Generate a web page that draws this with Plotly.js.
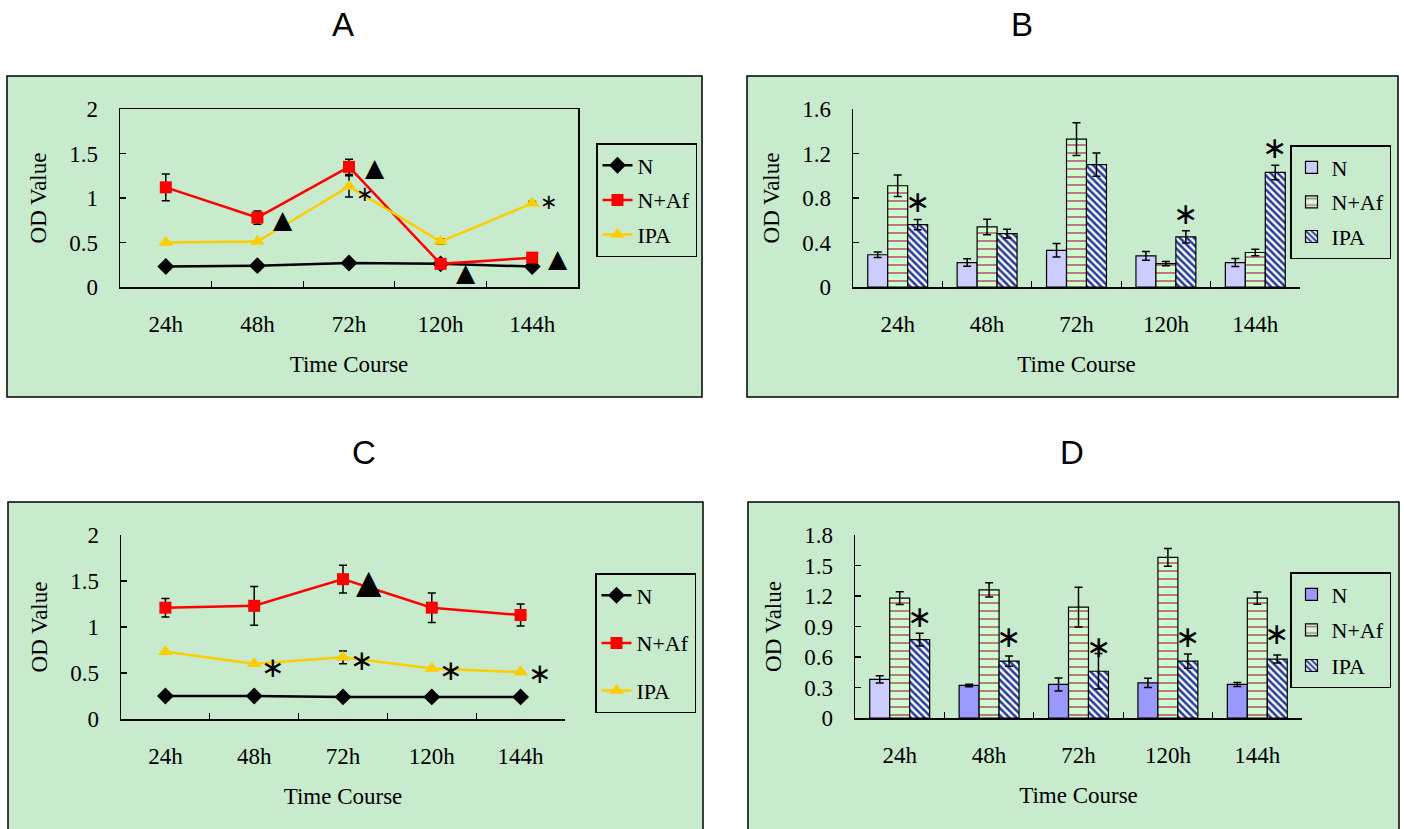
<!DOCTYPE html>
<html>
<head>
<meta charset="utf-8">
<script src="https://cdn.plot.ly/plotly-3.0.1.min.js"></script>
<style>html,body{margin:0;padding:0;background:#fff;overflow:hidden;}#chart{width:1404px;height:829px;}</style>
</head>
<body>
<div id="chart"></div>
<script>
// ---------- data ----------
const categories = ['24h', '48h', '72h', '120h', '144h'];
const seriesNames = ['N', 'N+Af', 'IPA'];

// Panel A (line)
const A_N = [0.23, 0.24, 0.27, 0.26, 0.23];
const A_NAf = [1.12, 0.78, 1.35, 0.26, 0.33];
const A_NAf_err = [0.15, 0.075, 0.085, 0.03, 0.0];
const A_IPA = [0.50, 0.51, 1.13, 0.51, 0.94];
const A_IPA_err = [0.0, 0.0, 0.12, 0.03, 0.02];
const A_triangles = [[1, 0.76], [2, 1.34], [3, 0.16], [4, 0.32]];   // [category index, y]
const A_stars = [[2, 1.05], [4, 0.95]];

// Panel B (bars)
const B_N = [0.29, 0.22, 0.33, 0.28, 0.22];
const B_N_err = [0.025, 0.033, 0.06, 0.04, 0.036];
const B_NAf = [0.91, 0.54, 1.33, 0.21, 0.31];
const B_NAf_err = [0.097, 0.07, 0.147, 0.02, 0.03];
const B_IPA = [0.56, 0.48, 1.10, 0.45, 1.03];
const B_IPA_err = [0.046, 0.04, 0.105, 0.055, 0.065];
const B_stars = [[0, 0.77], [3, 0.66], [4, 1.25]];

// Panel C (line)
const C_N = [0.25, 0.25, 0.24, 0.24, 0.24];
const C_NAf = [1.21, 1.23, 1.52, 1.21, 1.13];
const C_NAf_err = [0.10, 0.21, 0.15, 0.16, 0.12];
const C_IPA = [0.73, 0.60, 0.67, 0.55, 0.51];
const C_IPA_err = [0.0, 0.0, 0.07, 0.0, 0.0];
const C_triangles = [[2, 1.49]];
const C_stars = [[1, 0.56], [2, 0.64], [3, 0.53], [4, 0.49]];

// Panel D (bars)
const D_N = [0.38, 0.32, 0.33, 0.345, 0.33];
const D_N_err = [0.036, 0.012, 0.064, 0.045, 0.02];
const D_N_colors = ['#ccccff', '#9999ff', '#9999ff', '#9999ff', '#9999ff'];
const D_NAf = [1.18, 1.26, 1.09, 1.58, 1.18];
const D_NAf_err = [0.063, 0.07, 0.196, 0.087, 0.06];
const D_IPA = [0.77, 0.56, 0.46, 0.56, 0.58];
const D_IPA_err = [0.063, 0.05, 0.175, 0.07, 0.04];
const D_stars = [[0, 1.0], [1, 0.80], [2, 0.70], [3, 0.80], [4, 0.83]];

const panelTitles = ['A', 'B', 'C', 'D'];
const xTitle = 'Time Course';
const yTitle = 'OD Value';

// ---------- layout helpers ----------
const W = 1404, H = 829;
const px = v => v / W;
const py = v => 1 - v / H;
const GREEN = '#c7ebcc';
const FONT = 'Liberation Serif, DejaVu Serif, serif';
const FS = 23;
const LFS = 22;
const SYMFONT = 'DejaVu Sans, sans-serif';

function errBar(arr) {
  return {type: 'data', array: arr, visible: true, color: '#000', thickness: 1.5, width: 4};
}

const traces = [];

function lineTraces(xa, ya, leg, N, NAf, NAfErr, IPA, IPAErr) {
  traces.push({type: 'scatter', mode: 'lines+markers', name: seriesNames[0], x: categories, y: N,
    xaxis: xa, yaxis: ya, legend: leg, legendgroup: leg + 'a',
    line: {color: '#000000', width: 2.5}, marker: {symbol: 'diamond', size: 13, color: '#000000'}});
  traces.push({type: 'scatter', mode: 'lines+markers', name: seriesNames[1], x: categories, y: NAf,
    xaxis: xa, yaxis: ya, legend: leg, legendgroup: leg + 'b', error_y: errBar(NAfErr),
    line: {color: '#ff0000', width: 2.5}, marker: {symbol: 'square', size: 12, color: '#ff0000'}});
  traces.push({type: 'scatter', mode: 'lines+markers', name: seriesNames[2], x: categories, y: IPA,
    xaxis: xa, yaxis: ya, legend: leg, legendgroup: leg + 'c', error_y: errBar(IPAErr),
    line: {color: '#ffcc00', width: 2.5}, marker: {symbol: 'triangle-up', size: 13, color: '#ffcc00'}});
}

// order lets the legend swatch take the colour of a chosen point first
function barTraces(xa, ya, leg, N, NErr, NColors, NAf, NAfErr, IPA, IPAErr, order) {
  const o = order || [0, 1, 2, 3, 4];
  const pick = arr => Array.isArray(arr) ? o.map(i => arr[i]) : arr;
  traces.push({type: 'bar', name: seriesNames[0], x: pick(categories), y: pick(N), xaxis: xa, yaxis: ya,
    legend: leg, legendgroup: leg + 'a', error_y: errBar(pick(NErr)),
    marker: {color: pick(NColors), line: {color: '#000', width: 1.2}}});
  traces.push({type: 'bar', name: seriesNames[1], x: categories, y: NAf, xaxis: xa, yaxis: ya,
    legend: leg, legendgroup: leg + 'b', error_y: errBar(NAfErr),
    marker: {color: '#ccffcc', line: {color: '#000', width: 1.2},
      pattern: {shape: '-', fgcolor: '#c0608a', bgcolor: '#ccffcc', size: 8, solidity: 0.22, fillmode: 'replace'}}});
  traces.push({type: 'bar', name: seriesNames[2], x: categories, y: IPA, xaxis: xa, yaxis: ya,
    legend: leg, legendgroup: leg + 'c', error_y: errBar(IPAErr),
    marker: {color: '#ffffff', line: {color: '#000', width: 1.2},
      pattern: {shape: '\\', fgcolor: '#2a3a9c', bgcolor: '#f4fbf6', size: 5, solidity: 0.5, fillmode: 'replace'}}});
}

lineTraces('x', 'y', 'legend', A_N, A_NAf, A_NAf_err, A_IPA, A_IPA_err);
barTraces('x2', 'y2', 'legend2', B_N, B_N_err, '#ccccff', B_NAf, B_NAf_err, B_IPA, B_IPA_err);
lineTraces('x3', 'y3', 'legend3', C_N, C_NAf, C_NAf_err, C_IPA, C_IPA_err);
barTraces('x4', 'y4', 'legend4', D_N, D_N_err, D_N_colors, D_NAf, D_NAf_err, D_IPA, D_IPA_err, [1, 2, 3, 4, 0]);

function xAxis(x0, x1, anchor, mirror) {
  return {
    domain: [px(x0), px(x1)], anchor: anchor, type: 'category', range: [-0.5, 4.5],
    categoryorder: 'array', categoryarray: categories,
    showline: true, linecolor: '#000', linewidth: 1.5, mirror: mirror,
    ticks: 'inside', tickson: 'boundaries', ticklen: 6, tickwidth: 1.2, tickcolor: '#000',
    showgrid: false, zeroline: false, ticklabelstandoff: 16,
    tickfont: {family: FONT, size: FS, color: '#000'},
    title: {text: xTitle, font: {family: FONT, size: FS, color: '#000'}, standoff: 20},
    fixedrange: true
  };
}
function yAxis(y0, y1, anchor, max, dtick, mirror) {
  return {
    domain: [py(y1), py(y0)], anchor: anchor, range: [0, max], dtick: dtick, tick0: 0,
    showline: true, linecolor: '#000', linewidth: 1.5, mirror: mirror,
    ticks: 'inside', ticklen: 6, tickwidth: 1.2, tickcolor: '#000',
    showgrid: false, zeroline: false, ticklabelstandoff: 16,
    tickfont: {family: FONT, size: FS, color: '#000'},
    title: {text: yTitle, font: {family: FONT, size: FS, color: '#000'}, standoff: 16},
    fixedrange: true
  };
}

function legendAt(xRight, yTop, gap) {
  return {x: px(xRight), y: py(yTop), xanchor: 'right', yanchor: 'top', bgcolor: 'rgba(0,0,0,0)',
    bordercolor: '#000', borderwidth: 1.5, font: {family: FONT, size: LFS, color: '#000'},
    traceorder: 'grouped', tracegroupgap: gap, itemwidth: 30};
}

const shapes = [
  [7, 76, 702, 397], [747, 76, 1398, 397], [8, 502, 703, 840], [748, 502, 1399, 840]
].map(r => ({type: 'rect', xref: 'paper', yref: 'paper', layer: 'below',
  x0: px(r[0]), x1: px(r[2]), y0: py(r[3]), y1: py(r[1]),
  fillcolor: GREEN, line: {color: '#000', width: 1.5}}));

const annotations = [];
[[343, 24], [1022, 24], [364, 452], [1072, 452]].forEach((p, i) => {
  annotations.push({xref: 'paper', yref: 'paper', x: px(p[0]), y: py(p[1]), text: panelTitles[i],
    showarrow: false, xanchor: 'center', yanchor: 'middle',
    font: {family: 'Liberation Sans, Arial, sans-serif', size: 33, color: '#000'}});
});
function marks(list, xa, ya, glyph, dx, size) {
  list.forEach(m => annotations.push({xref: xa, yref: ya, x: m[0] + dx, y: m[1], text: glyph,
    showarrow: false, xanchor: 'center', yanchor: 'middle',
    font: {family: SYMFONT, size: size, color: '#000'}}));
}
marks(A_triangles, 'x', 'y', '▲', 0.28, 25);
marks(A_stars, 'x', 'y', '∗', 0.18, 21);
marks(B_stars, 'x2', 'y2', '∗', 0.22, 30);
marks(C_triangles, 'x3', 'y3', '▲', 0.29, 33);
marks(C_stars, 'x3', 'y3', '∗', 0.21, 28);
marks(D_stars, 'x4', 'y4', '∗', 0.22, 30);

const layout = {
  width: W, height: H, margin: {l: 0, r: 0, t: 0, b: 0},
  paper_bgcolor: '#ffffff', plot_bgcolor: 'rgba(0,0,0,0)',
  barmode: 'group', bargap: 0.33, bargroupgap: 0,
  xaxis: xAxis(120, 578, 'y', true),
  yaxis: yAxis(109, 287, 'x', 2, 0.5, true),
  xaxis2: xAxis(853, 1300, 'y2', false),
  yaxis2: yAxis(109, 287, 'x2', 1.6, 0.4, false),
  xaxis3: xAxis(121, 565, 'y3', false),
  yaxis3: yAxis(535, 719, 'x3', 2, 0.5, false),
  xaxis4: xAxis(855, 1302, 'y4', false),
  yaxis4: yAxis(535, 718, 'x4', 1.8, 0.3, false),
  legend: legendAt(697, 143, 3),
  legend2: legendAt(1391, 145, 3),
  legend3: legendAt(696, 573, 16),
  legend4: legendAt(1391, 572, 4),
  shapes: shapes,
  annotations: annotations,
  showlegend: true
};
layout.yaxis2.tickvals = [0, 0.4, 0.8, 1.2, 1.6];
layout.yaxis2.ticktext = ['0', '0.4', '0.8', '1.2', '1.6'];
layout.yaxis4.tickvals = [0, 0.3, 0.6, 0.9, 1.2, 1.5, 1.8];
layout.yaxis4.ticktext = ['0', '0.3', '0.6', '0.9', '1.2', '1.5', '1.8'];

Plotly.newPlot('chart', traces, layout, {staticPlot: true, displayModeBar: false});
</script>
</body>
</html>
